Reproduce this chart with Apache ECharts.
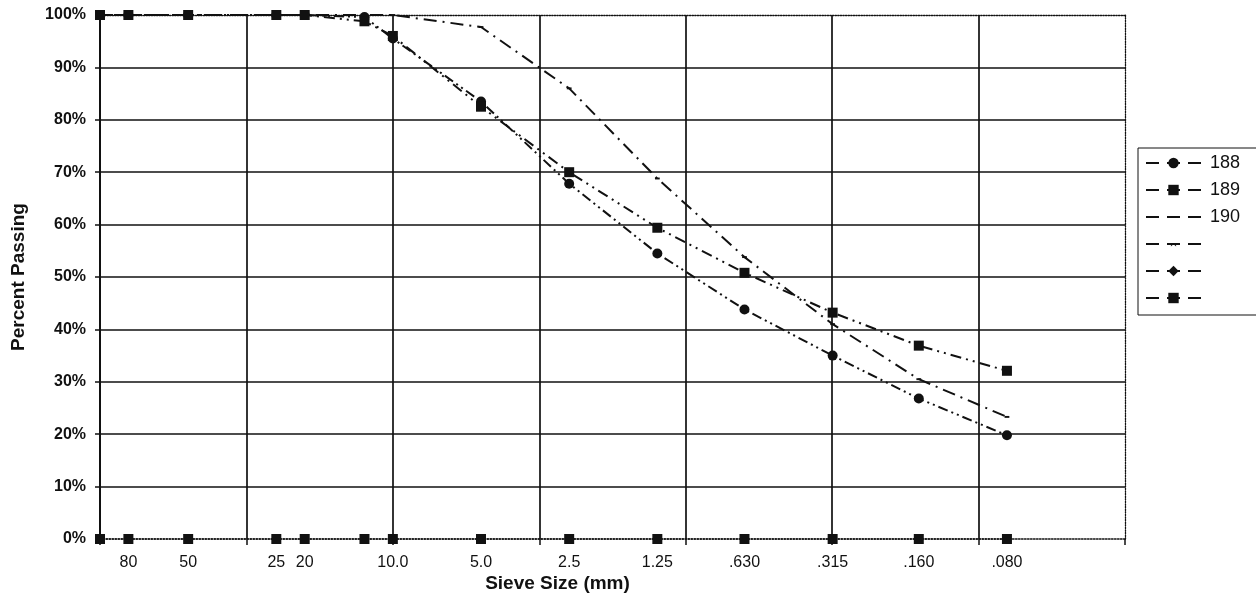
<!DOCTYPE html>
<html><head><meta charset="utf-8">
<script src="https://cdn.jsdelivr.net/npm/echarts@6/dist/echarts.min.js"></script>
<style>html,body{margin:0;padding:0;background:#fff}#c{width:1256px;height:598px}</style>
</head><body><div id="c"></div>
<script>
// Sieve sizes (mm) and their printed labels
const sieveSizes = [100, 80, 50, 25, 20, 12.5, 10, 5, 2.5, 1.25, 0.63, 0.315, 0.16, 0.08];
const sieveLabels = ['', '80', '50', '25', '20', '', '10.0', '5.0', '2.5', '1.25', '.630', '.315', '.160', '.080'];
// Percent passing per sample
const s188 = [100, 100, 100, 100, 100, 99.6, 95.5, 83.5, 67.8, 54.5, 43.8, 35.0, 26.8, 19.8];
const s189 = [100, 100, 100, 100, 100, 98.8, 96.0, 82.5, 70.0, 59.4, 50.8, 43.2, 36.9, 32.1];
const s190 = [100, 100, 100, 100, 100, 100, 100, 97.7, 86.0, 68.8, 53.8, 41.0, 30.5, 23.3];
const sEmpty4 = [];
const sEmpty5 = [];
const sBase = [0, 0, 0, 0, 0, 0, 0, 0, 0, 0, 0, 0, 0, 0];
const legendNames = ['188', '189', '190', ' ', '  ', '   '];

const INK = '#111';
const FONT = 'Liberation Sans, Arial, sans-serif';
// small marks: a short dash and a little arc, padded inside a 10x10 box
const DASH_MARK = 'path://M0,0 M10,10 M3,4.2 L7,4.2 L7,5.8 L3,5.8 Z';
const ARC_MARK = 'path://M0,0 M10,10 M2.5,6.2 Q5,2.8 7.5,6.2 L7.5,7.4 Q5,4.2 2.5,7.4 Z';
function pts(vals) { return vals.map((v, i) => [sieveSizes[i], v]); }

const chart = echarts.init(document.getElementById('c'), null, {renderer: 'canvas'});
const logAxisBase = {
  type: 'log', logBase: Math.sqrt(10), min: Math.pow(10, -1.5), max: 100,
  inverse: true, splitNumber: 7, interval: 1
};
chart.setOption({
  animation: false,
  backgroundColor: '#fff',
  grid: {left: 100, right: 131, top: 15, bottom: 55},
  legend: {
    data: legendNames, orient: 'vertical', left: 1138, top: 148,
    padding: [6, 40, 8, 7], itemWidth: 55, itemHeight: 13, itemGap: 9,
    borderColor: INK, borderWidth: 1, selectedMode: false,
    textStyle: {fontFamily: FONT, fontSize: 18, color: INK, padding: [0, 0, 0, 4]},
    lineStyle: {type: [13, 8], width: 2, color: INK}
  },
  xAxis: [
    Object.assign({}, logAxisBase, {
      position: 'bottom',
      name: 'Sieve Size (mm)', nameLocation: 'middle', nameGap: 35,
      nameTextStyle: {fontFamily: FONT, fontSize: 19, fontWeight: 'bold', color: INK, padding: [0, 110, 0, 0]},
      axisLine: {show: true, lineStyle: {color: INK, width: 1.5, type: 'dotted'}},
      axisTick: {show: true, inside: false, length: 6, lineStyle: {color: INK, width: 1.5}},
      axisLabel: {show: false},
      splitLine: {show: true, showMinLine: false, showMaxLine: false, lineStyle: {color: INK, width: 1.7}}
    }),
    Object.assign({}, logAxisBase, {
      position: 'top',
      axisLine: {show: true, onZero: false, lineStyle: {color: INK, width: 1.3, type: 'dotted'}},
      axisTick: {show: false}, axisLabel: {show: false}, splitLine: {show: false}
    })
  ],
  yAxis: [
    {
      type: 'value', min: 0, max: 100, interval: 10, position: 'left',
      name: 'Percent Passing', nameLocation: 'middle', nameGap: 72,
      nameTextStyle: {fontFamily: FONT, fontSize: 19, fontWeight: 'bold', color: INK},
      axisLine: {show: true, lineStyle: {color: INK, width: 2}},
      axisTick: {show: true, inside: false, length: 5, lineStyle: {color: INK, width: 1.5}},
      axisLabel: {formatter: '{value}%', fontFamily: FONT, fontSize: 16, fontWeight: 'bold', color: INK, margin: 14},
      splitLine: {show: true, showMinLine: false, showMaxLine: false, lineStyle: {color: INK, width: 1.7}}
    },
    {
      type: 'value', min: 0, max: 100, interval: 10, position: 'right',
      axisLine: {show: true, onZero: false, lineStyle: {color: INK, width: 1.3, type: 'dotted'}},
      axisTick: {show: false}, axisLabel: {show: false}, splitLine: {show: false}
    }
  ],
  series: [
    {name: '188', type: 'line', data: pts(s188), symbol: 'circle', symbolSize: 10, clip: false, z: 4,
     itemStyle: {color: INK}, lineStyle: {color: INK, width: 2, type: [10, 4, 2, 4, 2, 4]}},
    {name: '189', type: 'line', data: pts(s189), symbol: 'rect', symbolSize: 10, clip: false, z: 5,
     itemStyle: {color: INK}, lineStyle: {color: INK, width: 2, type: [2, 5, 2, 5, 11, 5]}},
    {name: '190', type: 'line', data: pts(s190), symbol: DASH_MARK, symbolSize: 12, clip: false, z: 3,
     itemStyle: {color: INK}, lineStyle: {color: INK, width: 2, type: [13, 6, 2, 6]}},
    {name: ' ', type: 'line', data: sEmpty4, symbol: ARC_MARK, symbolSize: 12,
     itemStyle: {color: INK}, lineStyle: {color: INK, width: 2, type: [10, 6]}},
    {name: '  ', type: 'line', data: sEmpty5, symbol: 'diamond', symbolSize: 11,
     itemStyle: {color: INK}, lineStyle: {color: INK, width: 2, type: [10, 6]}},
    {name: '   ', type: 'line', data: pts(sBase), symbol: 'rect', symbolSize: 10, clip: false, z: 6,
     itemStyle: {color: INK}, lineStyle: {color: INK, width: 1.5, type: 'dotted'},
     label: {show: true, position: 'bottom', distance: 11,
             formatter: p => sieveLabels[p.dataIndex],
             fontFamily: FONT, fontSize: 16, color: INK}}
  ]
});
</script></body></html>
